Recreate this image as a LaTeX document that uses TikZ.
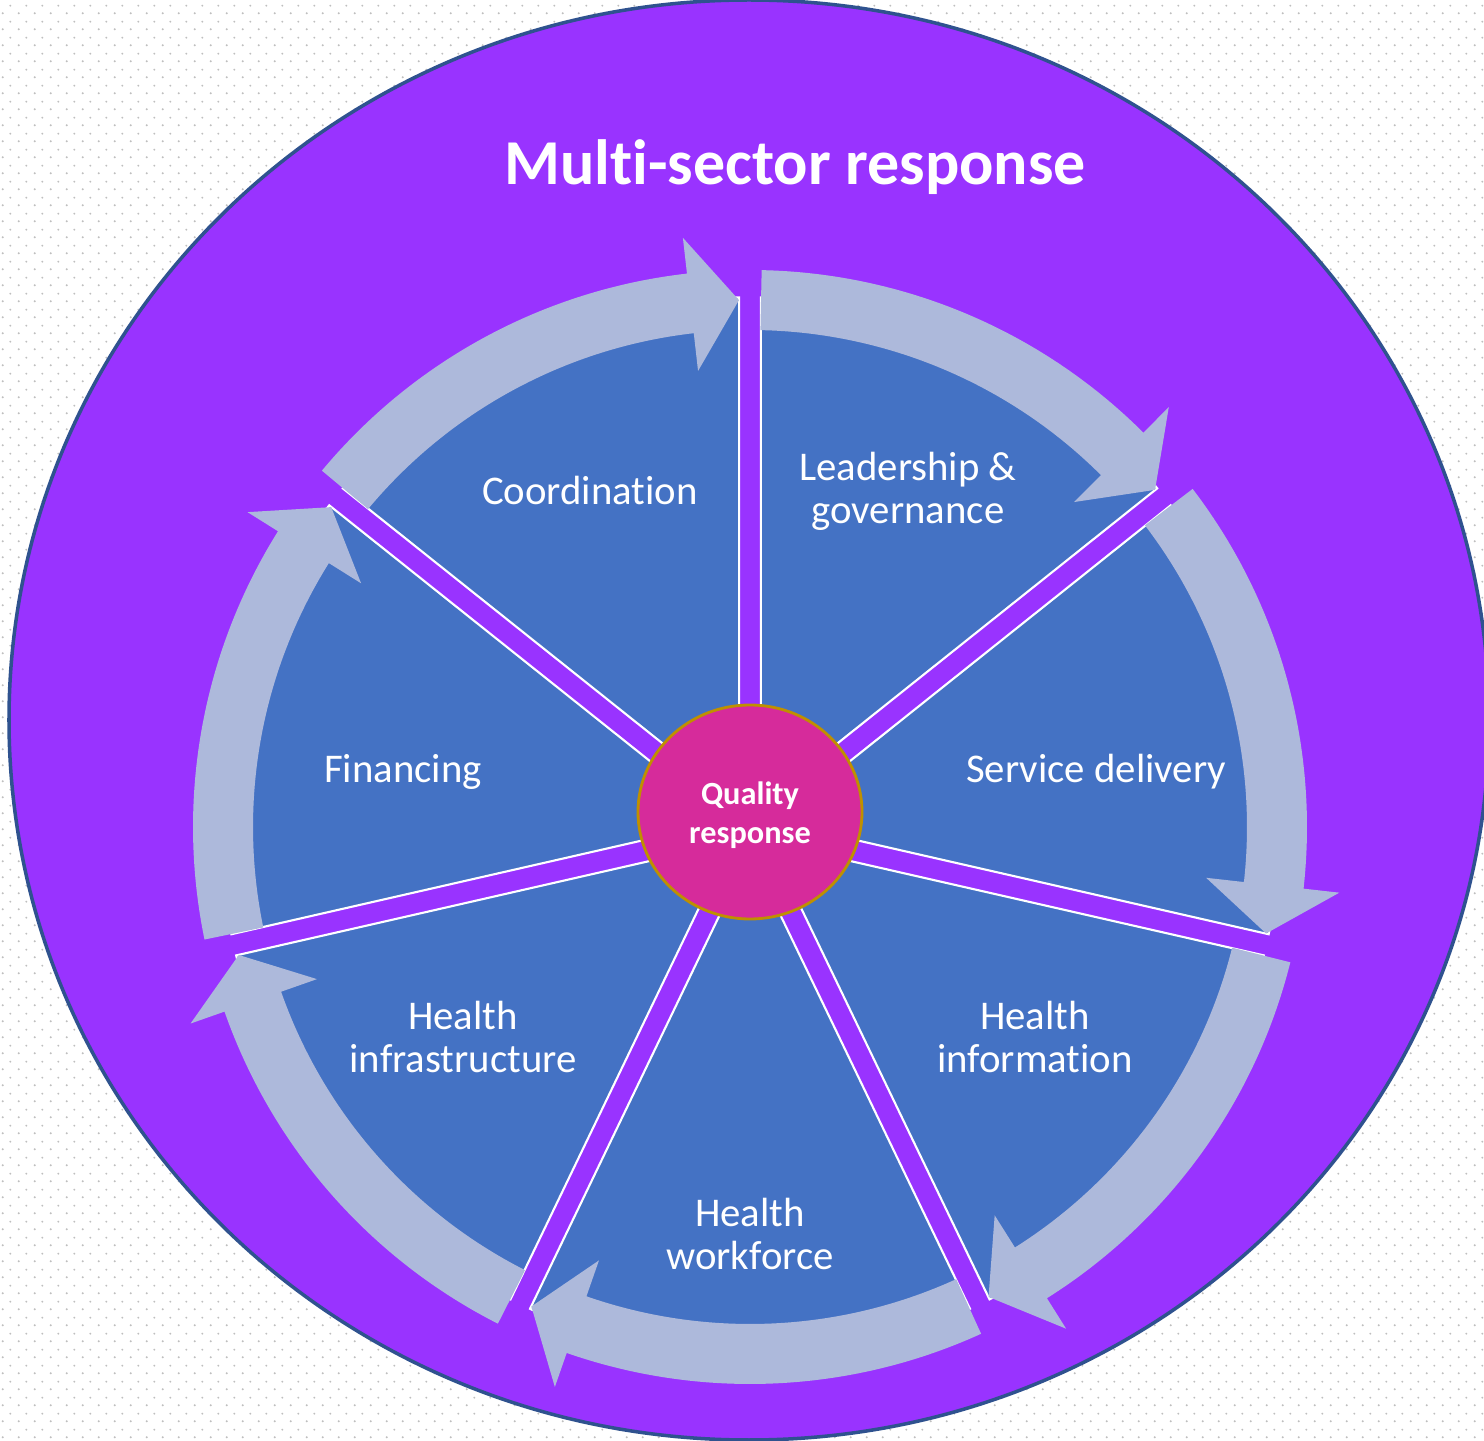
\documentclass[tikz,border=0pt]{standalone}
\usepackage{fontspec}
\setmainfont{Carlito}[Ligatures=NoCommon]
\usepackage{tikz}
\usetikzlibrary{shapes,patterns.meta}
\definecolor{multi}{HTML}{9933FF}
\definecolor{rim}{HTML}{2F528F}
\definecolor{sectorblue}{HTML}{4472C4}
\definecolor{ringblue}{HTML}{ADB9DB}
\definecolor{hubpink}{HTML}{D62B9B}
\definecolor{hubgold}{HTML}{BF9000}
\tikzdeclarepattern{
  name=bgdots,
  type=colored,
  bounding box={(0,0) and (0.16,0.16)},
  tile size={(0.16,0.16)},
  code={
    \fill[black!25] (0.04,0.04) circle (0.011);
    \fill[black!25] (0.12,0.12) circle (0.011);
  }
}
\tikzstyle{sector}=[fill=sectorblue,draw=white,line width=0.6pt]
\tikzstyle{cyclearrow}=[fill=ringblue]
\tikzstyle{hub}=[ellipse,fill=hubpink,draw=hubgold,line width=0.8pt,minimum width=2.24cm,minimum height=2.14cm,inner sep=0pt]
\tikzstyle{hubtext}=[text=white,align=center,font=\fontsize{9.2}{11.2}\selectfont\bfseries]
\tikzstyle{sectortext}=[text=white,align=center,font=\fontsize{11.6}{12.3}\selectfont]

\begin{document}
\begin{tikzpicture}
    \useasboundingbox (0,0) rectangle (14.84,14.40);
    % Dotted page and the outer circle
    \fill[white] (0,0) rectangle (14.84,14.40);
    \fill[pattern=bgdots] (0,0) rectangle (14.84,14.40);
    \draw[fill=multi,draw=rim,line width=1pt] (7.49,7.20) ellipse [x radius=7.40,y radius=7.20];
    \node[text=white,font=\fontsize{18.2}{22}\selectfont\bfseries] (title) at (7.95,12.73) {Multi-sector response};

    \begin{scope}[shift={(7.50,6.13)}]
    % First the seven blue pieces, pulled apart a little
    \foreach \k in {0,...,6} {
        \pgfmathsetmacro{\b}{90-51.4286*\k}
        \pgfmathsetmacro{\e}{\b-51.4286}
        \pgfmathsetmacro{\m}{\b-25.7143}
        \begin{scope}[shift={(\m:0.25)}]
            \path[sector] (0,0) -- (\b:5.07) arc[start angle=\b,end angle=\e,radius=5.07] -- cycle;
        \end{scope}
    }
    % Then the arrows round the outside, clockwise
    \foreach \k in {0,...,6} {
        \pgfmathsetmacro{\s}{90-51.4286*\k-1.2}
        \pgfmathsetmacro{\t}{90-51.4286*(\k+1)+1.2}
        \pgfmathsetmacro{\h}{\t+5.3}
        \path[cyclearrow] (\s:5.57) arc[start angle=\s,end angle=\h,radius=5.57]
            -- (\h:5.93) -- (\t:5.27) -- (\h:4.59) -- (\h:4.97)
            arc[start angle=\h,end angle=\s,radius=4.97] -- cycle;
    }
    \end{scope}

    % Centre and the names of the pieces
    \node[hub] (quality) at (7.50,6.28) {};
    \node[hubtext] (qualitytext) at (7.50,6.25) {Quality\\response};
    \foreach \pos/\name/\txt in {{(5.90,9.49)/coord/{Coordination}},
                                 {(9.08,9.49)/lead/{Leadership \&\\governance}},
                                 {(10.96,6.68)/service/{Service delivery}},
                                 {(10.35,4.03)/info/{Health\\information}},
                                 {(7.50,2.06)/workforce/{Health\\workforce}},
                                 {(4.63,4.03)/infra/{Health\\infrastructure}},
                                 {(4.03,6.68)/finance/{Financing}}}
        \node[sectortext] (\name) at \pos {\txt};
\end{tikzpicture}
\end{document}
